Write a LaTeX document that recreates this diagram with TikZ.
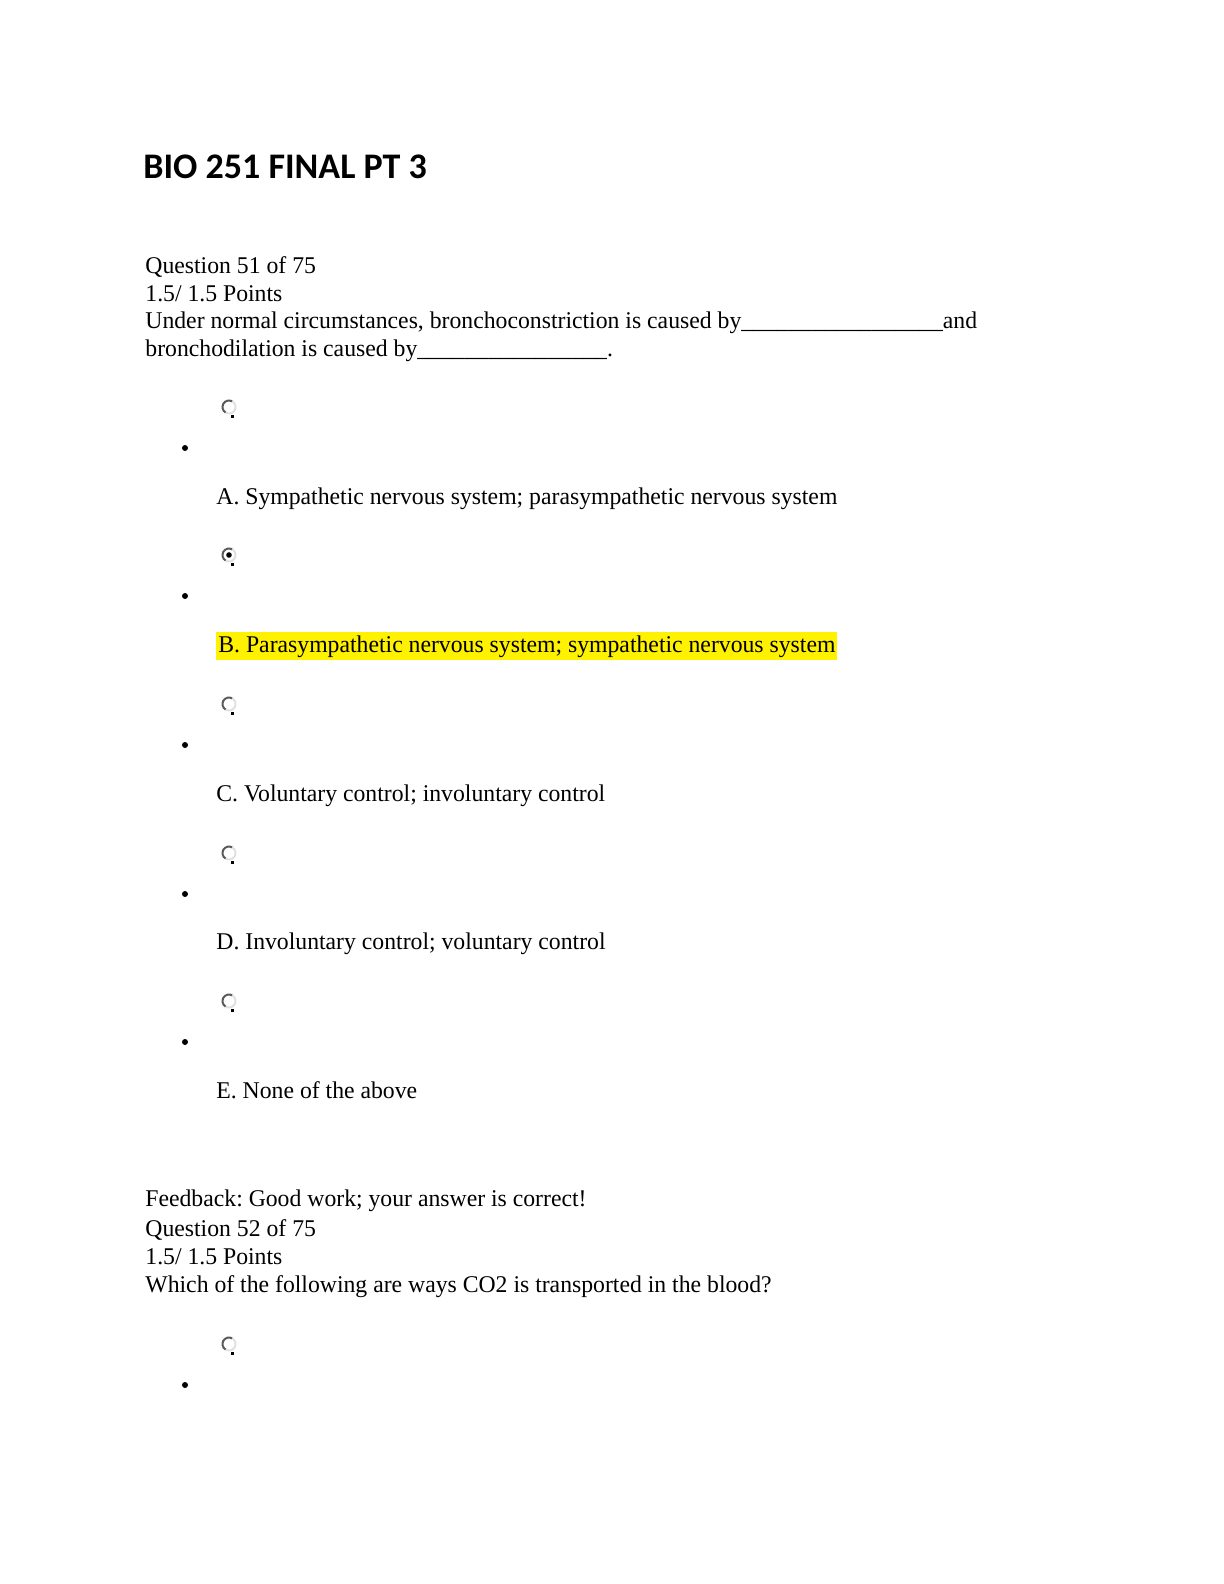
\documentclass[tikz,border=0pt]{standalone}
\usepackage{fontspec}
\setmainfont{Liberation Serif}[FakeStretch=0.988]
\newfontfamily\headfont{Carlito}
\usetikzlibrary{positioning}
\frenchspacing

\tikzset{
  txt/.style={anchor=base west, inner sep=0pt, font=\fontsize{12}{14}\selectfont},
  radio/.style={circle, inner sep=0pt, minimum size=14, draw=none},
  bullet/.style={circle, fill=black, inner sep=0pt, minimum size=3}
}

\begin{document}
\begin{tikzpicture}[x=0.5pt, y=-0.5pt]
\useasboundingbox (0,0) rectangle (1224,1584);
% title
\node[anchor=base west, inner sep=0pt, font=\headfont\bfseries\fontsize{18}{22}\selectfont] (title) at (143,178) {BIO 251 FINAL PT 3};
% question 51
\node[txt] (q51) at (145,273.5) {Question 51 of 75};
\node[txt] (p51) at (145,301) {1.5/ 1.5 Points};
\node[txt] (s51a) at (145,328.5) {Under normal circumstances, bronchoconstriction is caused by\_\_\_\_\_\_\_\_\_\_\_\_\_\_\_\_\_and};
\node[txt] (s51b) at (145,356) {bronchodilation is caused by\_\_\_\_\_\_\_\_\_\_\_\_\_\_\_\_.};
% radio buttons and bullets
\foreach \n/\y in {1/407, 2/555, 3/704, 4/853, 5/1001, 6/1344} {
  \node[radio] (r\n) at (229,\y) {};
  \draw[black!65, line width=1] (r\n.center) ++(120:6.5) arc (120:300:6.5);
  \draw[black!12, line width=1] (r\n.center) ++(300:6.5) arc (300:480:6.5);
  \fill[black] (r\n.center) ++(2,8) rectangle ++(3,3);
  \node[bullet] (b\n) at (185,\y+41) {};
}
\fill[black] (r2.center) circle (2.8);
% options
\node[txt] (optA) at (216,504) {A. Sympathetic nervous system; parasympathetic nervous system};
\node[txt, fill=yellow, inner xsep=1, text height=10pt, text depth=4pt] (optB) at (216,652) {B. Parasympathetic nervous system; sympathetic nervous system};
\node[txt] (optC) at (216,801) {C. Voluntary control; involuntary control};
\node[txt] (optD) at (216,949) {D. Involuntary control; voluntary control};
\node[txt] (optE) at (216,1098) {E. None of the above};
% feedback and question 52
\node[txt] (fb51) at (145,1206) {Feedback: Good work; your answer is correct!};
\node[txt] (q52) at (145,1236.5) {Question 52 of 75};
\node[txt] (p52) at (145,1264) {1.5/ 1.5 Points};
\node[txt] (s52) at (145,1292) {Which of the following are ways CO2 is transported in the blood?};
\end{tikzpicture}
\end{document}
